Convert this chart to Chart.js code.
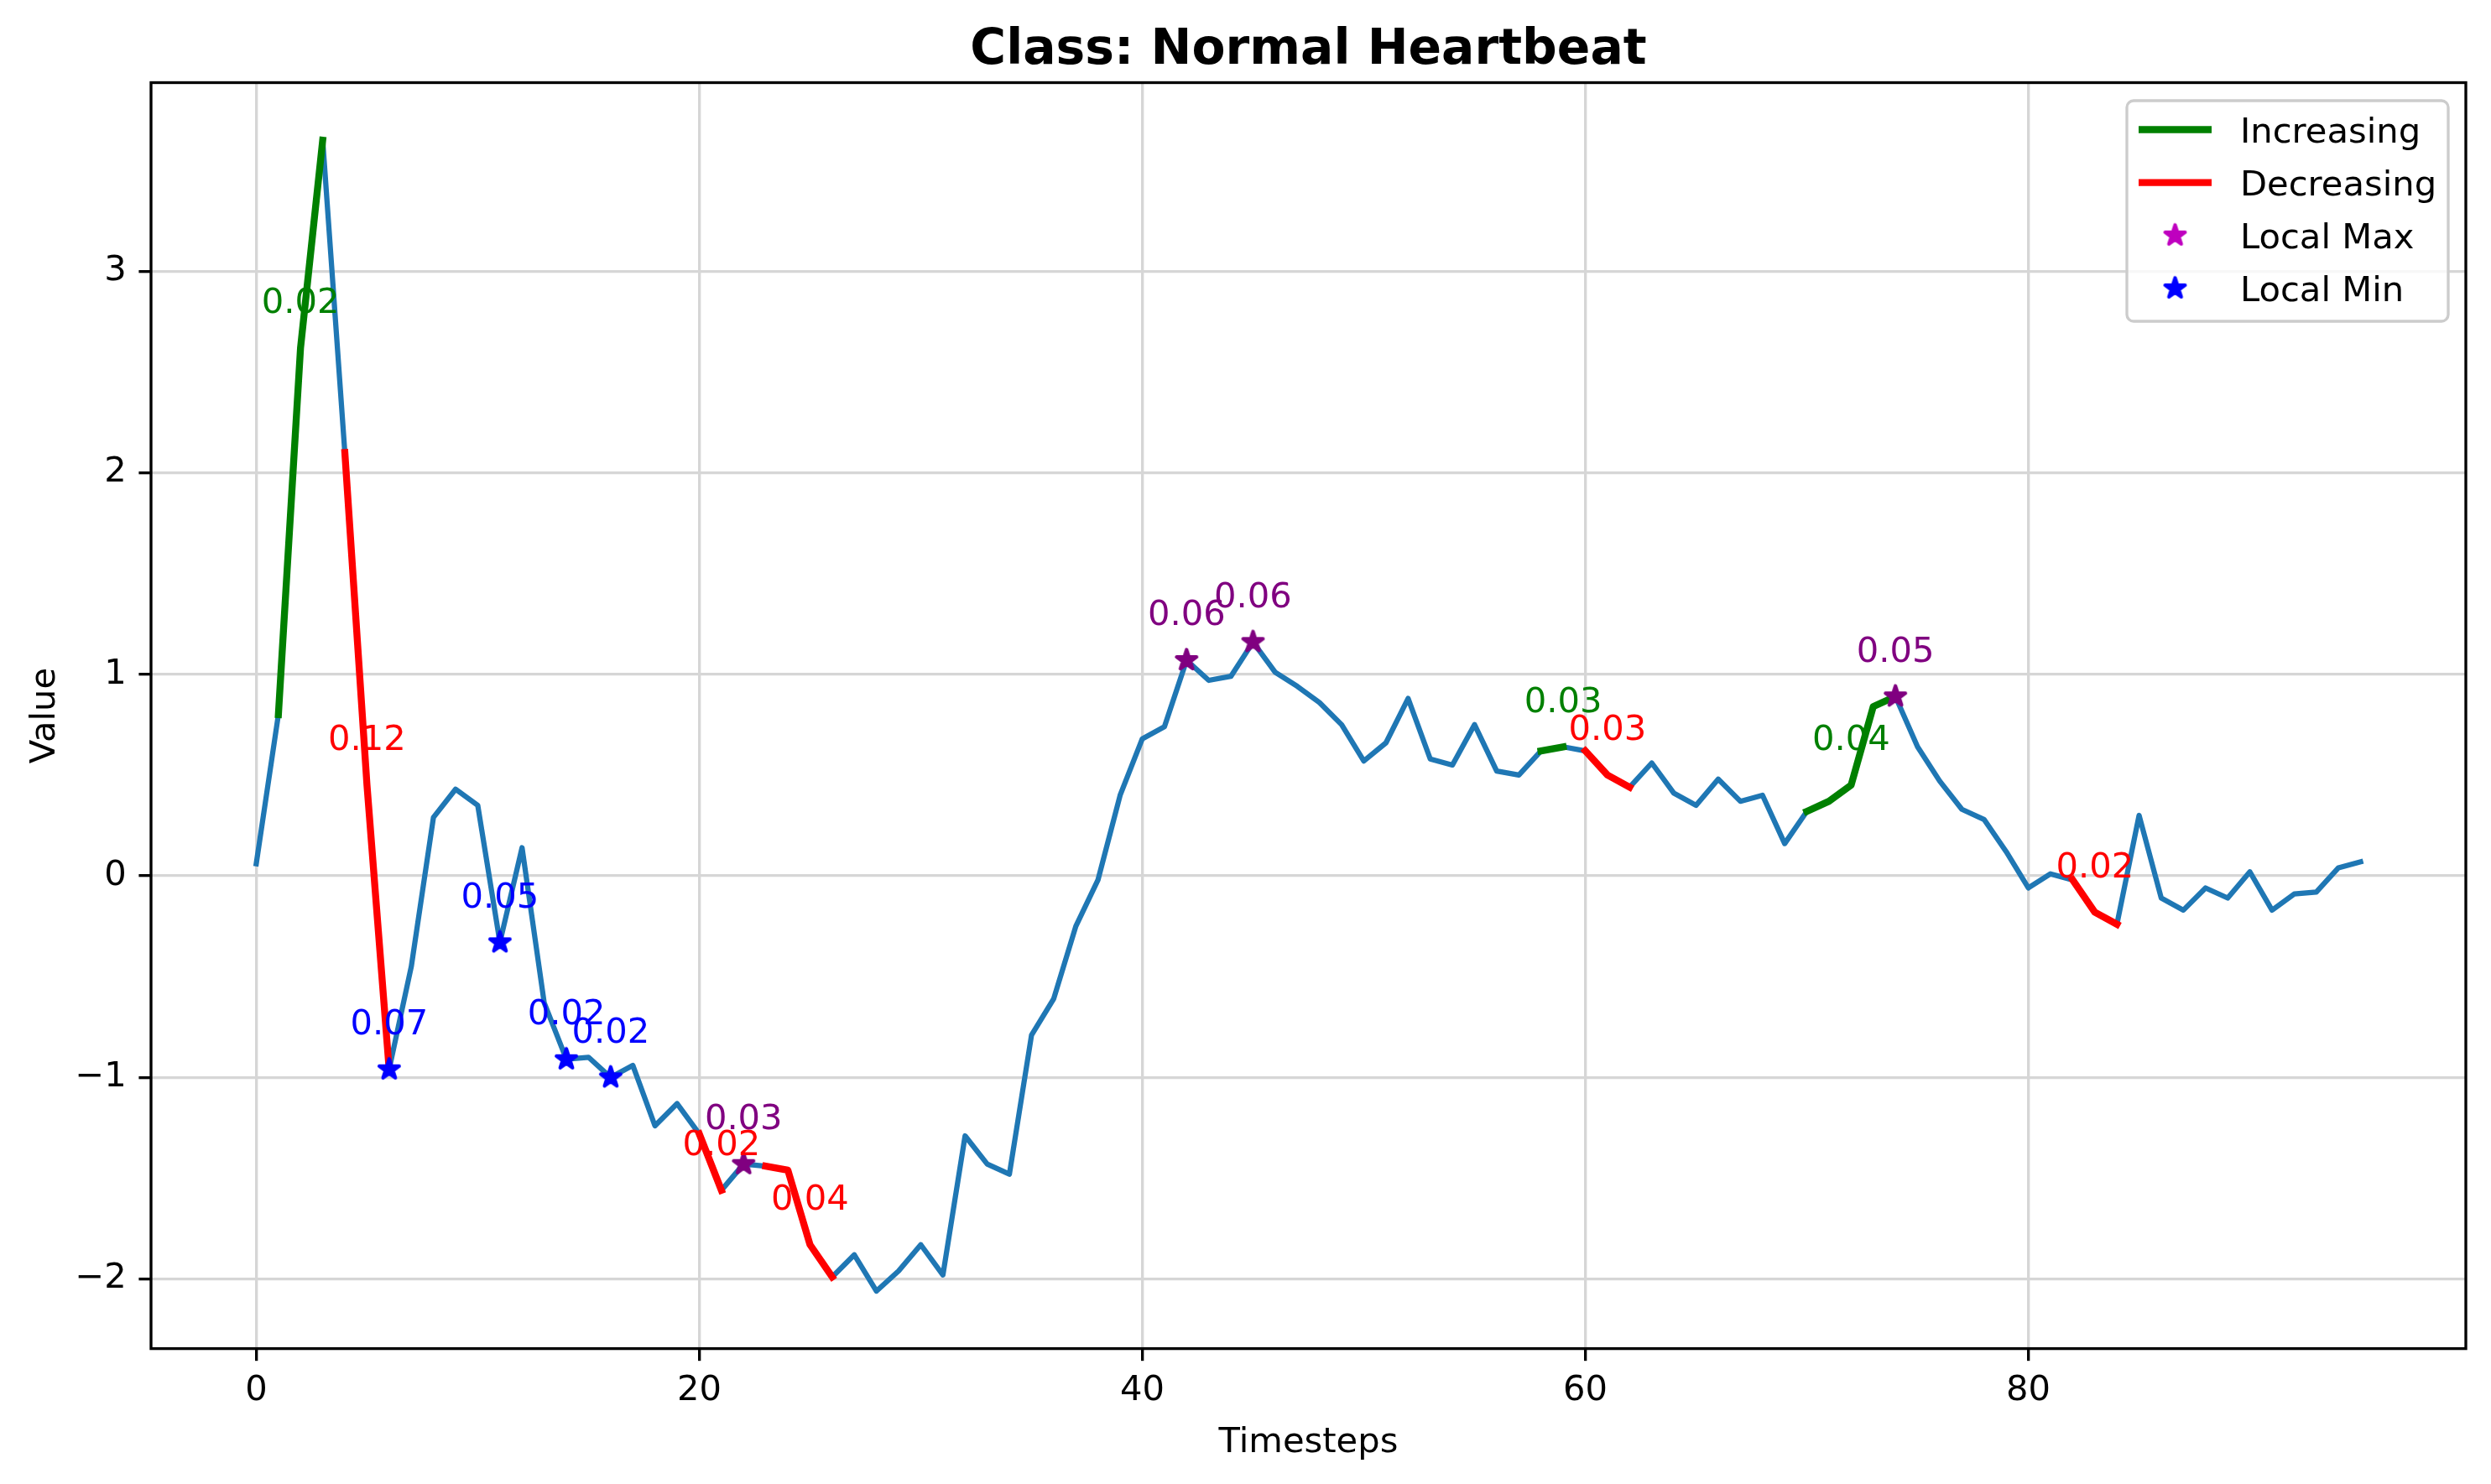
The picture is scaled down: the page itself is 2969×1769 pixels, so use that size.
<!DOCTYPE html>
<html>
<head>
<meta charset="utf-8">
<title>Class: Normal Heartbeat</title>
<script src="https://cdn.jsdelivr.net/npm/chart.js@4.4.1/dist/chart.umd.min.js"></script>
<style>
  html, body { margin: 0; padding: 0; background: #fff; overflow: hidden; }
  #wrap { width: 2969px; height: 1769px; position: relative; }
</style>
</head>
<body>
<div id="wrap"><canvas id="chart"></canvas></div>
<script>
// one value per timestep (0..95)
const values = [
  0.06, 0.80, 2.62, 3.65, 2.10, 0.45, -0.96, -0.45, 0.29, 0.43,
  0.35, -0.33, 0.14, -0.63, -0.91, -0.90, -1.00, -0.94, -1.24, -1.13,
  -1.28, -1.56, -1.43, -1.44, -1.46, -1.83, -1.99, -1.88, -2.06, -1.96,
  -1.83, -1.98, -1.29, -1.43, -1.48, -0.79, -0.61, -0.25, -0.02, 0.40,
  0.68, 0.74, 1.07, 0.97, 0.99, 1.16, 1.01, 0.94, 0.86, 0.75,
  0.57, 0.66, 0.88, 0.58, 0.55, 0.75, 0.52, 0.50, 0.62, 0.64,
  0.62, 0.50, 0.44, 0.56, 0.41, 0.35, 0.48, 0.37, 0.40, 0.16,
  0.32, 0.37, 0.45, 0.84, 0.89, 0.64, 0.47, 0.33, 0.28, 0.12,
  -0.06, 0.01, -0.02, -0.18, -0.24, 0.30, -0.11, -0.17, -0.06, -0.11,
  0.02, -0.17, -0.09, -0.08, 0.04, 0.07
];
const xTicks = [0, 20, 40, 60, 80];
const yTicks = [-2, -1, 0, 1, 2, 3];

// trend segments [start, end] with their labels
const incSegments = [[1, 3], [58, 59], [70, 74]];
const incLabels = ["0.02", "0.03", "0.04"];
const decSegments = [[4, 6], [20, 21], [23, 26], [60, 62], [82, 84]];
const decLabels = ["0.12", "0.02", "0.04", "0.03", "0.02"];

// local extrema
const maxIdx = [22, 42, 45, 74];
const maxLabels = ["0.03", "0.06", "0.06", "0.05"];
const minIdx = [6, 11, 14, 16];
const minLabels = ["0.07", "0.05", "0.02", "0.02"];

const legendNames = ["Increasing", "Decreasing", "Local Max", "Local Min"];

const PT = 300 / 72;   // points -> pixels
const FONT = '"DejaVu Sans", "Liberation Sans", sans-serif';

//star marker like matplotlib '*'
function starCanvas(color) {
  const size = 38;
  const c = document.createElement('canvas');
  c.width = size; c.height = size;
  const g = c.getContext('2d');
  const R = 3 * PT, r = R * 0.381966;
  g.beginPath();
  for (let k = 0; k < 10; k++) {
    const rad = k % 2 === 0 ? R : r;
    const a = -Math.PI / 2 + k * Math.PI / 5;
    const px = size / 2 + rad * Math.cos(a), py = size / 2 + rad * Math.sin(a);
    if (k === 0) g.moveTo(px, py); else g.lineTo(px, py);
  }
  g.closePath();
  g.fillStyle = color;
  g.fill();
  g.lineWidth = PT;
  g.lineJoin = 'round';
  g.strokeStyle = color;
  g.stroke();
  return c;
}
const starMax = starCanvas('#800080');
const starMin = starCanvas('#0000ff');
const starMaxLegend = starCanvas('#bf00bf');

function segmentPoints(segs) {
  let pts = [];
  segs.forEach(([s, e]) => {
    for (let i = s; i <= e; i++) pts.push({ x: i, y: values[i] });
    pts.push({ x: e + 0.5, y: null });
  });
  return pts;
}
function midOf(seg) {
  return seg[0] + Math.floor((seg[1] - seg[0] + 1) / 2);
}

const series = values.map((v, i) => ({ x: i, y: v }));
const yLo = Math.min(...values), yHi = Math.max(...values);
const yPad = (yHi - yLo) * 0.05;
const xPad = (values.length - 1) * 0.05;

const decorations = {
  id: 'decorations',
  afterDatasetsDraw(chart) {
    const ctx = chart.ctx, x = chart.scales.x, y = chart.scales.y;
    ctx.save();
    ctx.font = (10 * PT) + 'px ' + FONT;
    ctx.textAlign = 'center';
    ctx.textBaseline = 'alphabetic';
    const put = (idx, text, color) => {
      ctx.fillStyle = color;
      ctx.fillText(text, x.getPixelForValue(idx), y.getPixelForValue(values[idx]) - 10 * PT);
    };
    incSegments.forEach((s, k) => put(midOf(s), incLabels[k], '#008000'));
    decSegments.forEach((s, k) => put(midOf(s), decLabels[k], '#ff0000'));
    maxIdx.forEach((i, k) => put(i, maxLabels[k], '#800080'));
    minIdx.forEach((i, k) => put(i, minLabels[k], '#0000ff'));
    ctx.restore();
  },
  afterDraw(chart) {
    const ctx = chart.ctx, a = chart.chartArea;
    ctx.save();
    // spines
    ctx.strokeStyle = '#000';
    ctx.lineWidth = 0.8 * PT;
    ctx.strokeRect(a.left, a.top, a.right - a.left, a.bottom - a.top);

    // title + axis labels
    const cx = (a.left + a.right) / 2;
    ctx.fillStyle = '#000';
    ctx.textAlign = 'center';
    ctx.textBaseline = 'alphabetic';
    ctx.font = 'bold ' + (14 * PT) + 'px ' + FONT;
    ctx.fillText('Class: Normal Heartbeat', cx, 76);
    ctx.font = (10 * PT) + 'px ' + FONT;
    ctx.fillText('Timesteps', cx, 1731);
    ctx.save();
    ctx.translate(65, (a.top + a.bottom) / 2);
    ctx.rotate(-Math.PI / 2);
    ctx.fillText('Value', 0, 0);
    ctx.restore();

    // legend
    const lx = 2535, ly = 120, lw = 383, lh = 263, rr = 8;
    ctx.beginPath();
    ctx.moveTo(lx + rr, ly);
    ctx.arcTo(lx + lw, ly, lx + lw, ly + lh, rr);
    ctx.arcTo(lx + lw, ly + lh, lx, ly + lh, rr);
    ctx.arcTo(lx, ly + lh, lx, ly, rr);
    ctx.arcTo(lx, ly, lx + lw, ly, rr);
    ctx.closePath();
    ctx.fillStyle = 'rgba(255,255,255,0.8)';
    ctx.fill();
    ctx.strokeStyle = '#cccccc';
    ctx.lineWidth = 0.8 * PT;
    ctx.stroke();

    const rows = [154.5, 217.6, 280.7, 343.8];
    const hx0 = 2549, hx1 = 2636;
    ctx.lineCap = 'butt';
    ctx.lineWidth = 2 * PT;
    ctx.strokeStyle = '#008000';
    ctx.beginPath(); ctx.moveTo(hx0, rows[0]); ctx.lineTo(hx1, rows[0]); ctx.stroke();
    ctx.strokeStyle = '#ff0000';
    ctx.beginPath(); ctx.moveTo(hx0, rows[1]); ctx.lineTo(hx1, rows[1]); ctx.stroke();
    const hc = (hx0 + hx1) / 2;
    ctx.drawImage(starMaxLegend, hc - starMaxLegend.width / 2, rows[2] - starMaxLegend.height / 2);
    ctx.drawImage(starMin, hc - starMin.width / 2, rows[3] - starMin.height / 2);

    ctx.fillStyle = '#000';
    ctx.textAlign = 'left';
    ctx.font = (10 * PT) + 'px ' + FONT;
    legendNames.forEach((name, k) => ctx.fillText(name, 2670, rows[k] + 15.5));
    ctx.restore();
  }
};

const tickFont = { family: FONT, size: 10 * PT };
const gridOpts = {
  color: '#d6d6d6',
  lineWidth: 0.8 * PT,
  drawTicks: true,
  tickLength: 3.5 * PT,
  tickColor: '#000',
  tickWidth: 0.8 * PT
};

new Chart(document.getElementById('chart'), {
  type: 'line',
  data: {
    datasets: [
      {
        label: 'Local Max',
        data: maxIdx.map(i => ({ x: i, y: values[i] })),
        showLine: false,
        pointStyle: starMax,
        pointRadius: 6,
        order: 0
      },
      {
        label: 'Local Min',
        data: minIdx.map(i => ({ x: i, y: values[i] })),
        showLine: false,
        pointStyle: starMin,
        pointRadius: 6,
        order: 0
      },
      {
        label: 'Increasing',
        data: segmentPoints(incSegments),
        borderColor: '#008000',
        borderWidth: 2 * PT,
        pointRadius: 0,
        spanGaps: false,
        borderJoinStyle: 'round',
        borderCapStyle: 'square',
        order: 1
      },
      {
        label: 'Decreasing',
        data: segmentPoints(decSegments),
        borderColor: '#ff0000',
        borderWidth: 2 * PT,
        pointRadius: 0,
        spanGaps: false,
        borderJoinStyle: 'round',
        borderCapStyle: 'square',
        order: 1
      },
      {
        label: 'series',
        data: series,
        borderColor: '#1f77b4',
        borderWidth: 1.5 * PT,
        pointRadius: 0,
        borderJoinStyle: 'round',
        borderCapStyle: 'square',
        order: 2
      }
    ]
  },
  options: {
    responsive: true,
    maintainAspectRatio: false,
    animation: false,
    devicePixelRatio: 1,
    events: [],
    layout: { padding: { top: 98.5, right: 30, left: 0, bottom: 0 } },
    plugins: {
      legend: { display: false },
      tooltip: { enabled: false },
      title: { display: false }
    },
    scales: {
      x: {
        type: 'linear',
        min: -xPad,
        max: values.length - 1 + xPad,
        afterFit(s) { s.height = 161.4; },
        afterBuildTicks(s) { s.ticks = xTicks.map(v => ({ value: v })); },
        grid: gridOpts,
        border: { display: false },
        ticks: { font: tickFont, color: '#000', padding: 11, maxRotation: 0, autoSkip: false }
      },
      y: {
        type: 'linear',
        min: yLo - yPad,
        max: yHi + yPad,
        afterFit(s) { s.width = 180; },
        afterBuildTicks(s) { s.ticks = yTicks.map(v => ({ value: v })); },
        grid: gridOpts,
        border: { display: false },
        ticks: {
          font: tickFont, color: '#000', padding: 3.5 * PT, autoSkip: false,
          callback: v => v < 0 ? '\u2212' + Math.abs(v) : String(v)
        }
      }
    }
  },
  plugins: [decorations]
});
</script>
</body>
</html>
